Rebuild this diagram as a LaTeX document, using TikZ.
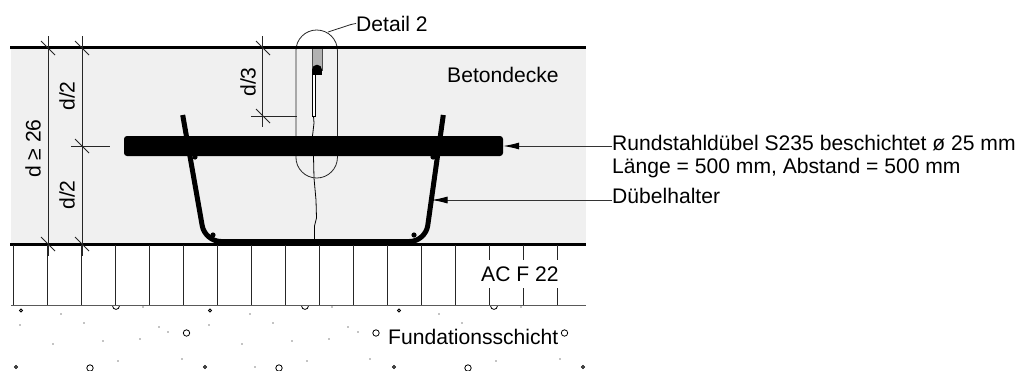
\documentclass[tikz,border=0pt]{standalone}
\usepackage{fontspec}
\setmainfont{Liberation Sans}
\usetikzlibrary{arrows.meta}
\tikzset{
	label text/.style={inner sep=0pt, font=\fontsize{21.1}{23}\selectfont},
	thin line/.style={line width=0.8pt, black!85},
	heavy line/.style={line width=2.6pt, black},
	leader/.style={line width=0.9pt, black!80, {Latex[length=16pt, width=7pt, black]}-},
	rebar/.style={line width=5pt, black, rounded corners=16pt}
}
\begin{document}
\begin{tikzpicture}[x=1pt, y=-1pt]
	\useasboundingbox (0,0) rectangle (1021,370);

	% Betondecke
	\fill [black!6]		(11,48) rectangle (586,244);

	% Fugenkerbe, Riss
	\filldraw [black!30, draw=black!70, line width=0.5pt]	(312,48) rectangle (322,70);
	\fill [black]		(312,70) rectangle (322,74.5);
	\fill [black]		(317,69.7) circle (5);
	\filldraw [fill=white, draw=black, line width=0.7pt]	(312,74.5) rectangle (315,116);
	\draw [line width=0.8pt, black]	(313.5,116) -- (314,123) -- (312.5,136) -- (313.5,156)
							-- (314,178) -- (316,200) -- (316.5,218) -- (314.5,226) -- (314.5,241);

	% Detail 2
	\node (capsule) [draw, thin line, rounded corners=20.7pt, minimum width=41.5pt, minimum height=148pt, inner sep=0pt] at (316.7,104) {};
	\coordinate (capsuleend) at (328,32);
	\node (detailtext) [label text, anchor=base west] at (356,31) {Detail 2};
	\draw [thin line]	(detailtext.west) -- (351,24.5) -- (capsuleend);

	% Bewehrung
	\draw [rebar]	(182.7,115) -- (205,241.5) -- (425.5,241.5) -- (443.3,115);
	\fill [black]	(195,157) circle (2.6)
					(213,235) circle (2.6)
					(433,157) circle (2.6)
					(414,235) circle (2.6);
	\node (dowel) [fill=black, rounded corners=3pt, minimum width=379pt, minimum height=20pt, inner sep=0pt] at (313.5,146) {};
	\coordinate (halter) at (431.5,200);

	% Schichtgrenzen
	\draw [heavy line]	(10,47.7) -- (586,47.7);
	\draw [heavy line]	(10,244.5) -- (586,244.5);

	% Asphaltschicht
	\draw [thin line]	(13,245) -- (13,305)
						(47,245) -- (47,305)
						(81,245) -- (81,305)
						(115,245) -- (115,305)
						(149,245) -- (149,305)
						(183,245) -- (183,305)
						(217,245) -- (217,305)
						(251,245) -- (251,305)
						(285,245) -- (285,305)
						(319,245) -- (319,305)
						(353,245) -- (353,305)
						(387,245) -- (387,305)
						(421,245) -- (421,305)
						(455,245) -- (455,305)
						(489,245) -- (489,260)
						(523,245) -- (523,260)
						(557,245) -- (557,260)
						(489,288) -- (489,305)
						(523,288) -- (523,305)
						(557,288) -- (557,305);

	% Masslinien
	\draw [thin line]	(48,36) -- (48,256)
						(82,36) -- (82,256)
						(262.5,36) -- (262.5,127)
						(71,146) -- (110,146)
						(251,116) -- (297,116);
	\draw [thin line]	(41,41) -- (55,55)
						(75,41) -- (89,55)
						(256,41) -- (270,55)
						(75,139) -- (89,153)
						(256,109) -- (270,123)
						(41,237) -- (55,251)
						(75,237) -- (89,251);

	% Fundationsschicht
	\begin{scope}
		\clip (0,305) rectangle (1021,370);
		\draw [line width=0.8pt]	(116,306) circle (3.4)
							(305,306) circle (3.4)
							(494,306) circle (3.4)
							(186.5,333) circle (3.2)
							(376,333) circle (3.2)
							(564.5,333) circle (3.2)
							(90,368) circle (3.2)
							(279,368) circle (3.2)
							(468,368) circle (3.2);
	\end{scope}
	\draw [line width=1pt, black!65]	(11,305) -- (586,305);
	\draw [line width=0.8pt]	(21,310.5) circle (1.5)
						(210,310.5) circle (1.5)
						(399,310.5) circle (1.5)
						(16,367) circle (1.5)
						(205,367) circle (1.5)
						(394,367) circle (1.5)
						(583,367) circle (1.5);
	\fill [black]		(61,314) circle (0.7)
						(143,307) circle (0.7)
						(20,325) circle (0.7)
						(84,323) circle (0.7)
						(159,327) circle (0.7)
						(168,332) circle (0.7)
						(53,344) circle (0.7)
						(103,341) circle (0.7)
						(140,339) circle (0.7)
						(118,361) circle (0.7)
						(182,359) circle (0.7)
						(250,314) circle (0.7)
						(209,325) circle (0.7)
						(273,323) circle (0.7)
						(242,344) circle (0.7)
						(292,341) circle (0.7)
						(329,339) circle (0.7)
						(332,307) circle (0.7)
						(255,367) circle (0.7)
						(307,361) circle (0.7)
						(439,314) circle (0.7)
						(348,327) circle (0.7)
						(358,332) circle (0.7)
						(462,323) circle (0.7)
						(521,307) circle (0.7)
						(370,359) circle (0.7)
						(496,361) circle (0.7)
						(560,359) circle (0.7);

	% Beschriftung
	\node [label text, rotate=90] at (33,148.5) {d ≥ 26};
	\node [label text, rotate=90] at (67,96) {d/2};
	\node [label text, rotate=90] at (67,195) {d/2};
	\node [label text, rotate=90] at (248,82) {d/3};
	\node [label text, anchor=base west] at (447,82) {Betondecke};
	\node [label text, anchor=base west] at (481,281) {AC F 22};
	\node [label text, anchor=base west] at (388,344) {Fundationsschicht};

	\node (dowellabel) [label text, anchor=base west] at (612,150) {Rundstahldübel S235 beschichtet ø 25 mm};
	\node (lengthlabel) [label text, anchor=base west] at (612,173) {Länge = 500 mm, Abstand = 500 mm};
	\node (halterlabel) [label text, anchor=base west] at (612,203) {Dübelhalter};
	\draw [leader]	(dowel.east) -- (dowel.east -| dowellabel.west);
	\draw [leader]	(halter) -- (halter -| halterlabel.west);
\end{tikzpicture}
\end{document}
